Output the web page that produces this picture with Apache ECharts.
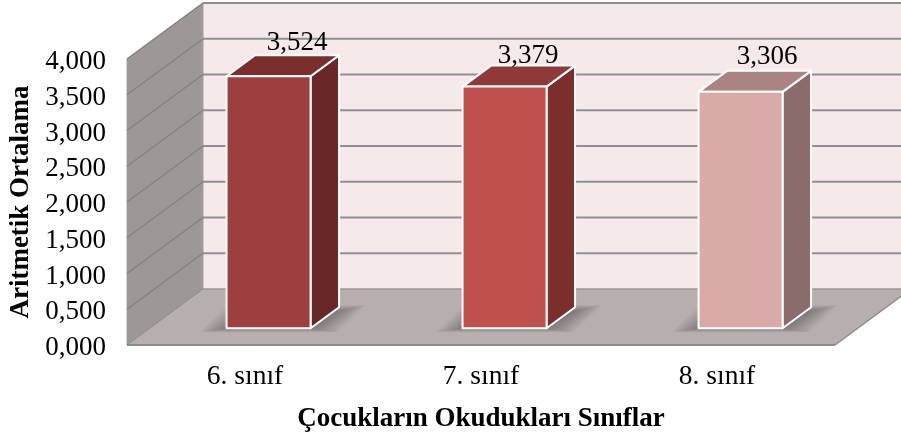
<!DOCTYPE html>
<html>
<head>
<meta charset="utf-8">
<style>
  html, body { margin: 0; padding: 0; background: #fff; }
  #chart { width: 901px; height: 438px; }
</style>
<script src="https://cdn.jsdelivr.net/npm/echarts@6/dist/echarts.min.js"></script>
</head>
<body>
<div id="chart"></div>
<script>
// data
const categories = ['6. sınıf', '7. sınıf', '8. sınıf'];
const means = [3.524, 3.379, 3.306];
const yTicks = [0, 0.5, 1, 1.5, 2, 2.5, 3, 3.5, 4];

// front, side and top face colours per bar
const faceColors = [
  ['#9c3f3e', '#692828', '#7a2e2e'],
  ['#c0504d', '#7b2f2d', '#8e3a38'],
  ['#d9aaa7', '#8a6c6c', '#a98482']
];

const FONT = '"Liberation Serif", "Times New Roman", serif';
// how far the back wall sits behind the front plane
const DEPTH_X = 76;
const DEPTH_Y = -56;
// bars stand inside the floor, these are fractions of the depth
const BAR_START_X = 0.31;
const BAR_START_Y = 0.30;
const BAR_DEPTH = 0.375;
const BAR_WIDTH = 0.356;
// the value labels are not placed quite evenly in the original
const labelNudge = [[0, 3], [-5, 5], [-2, 1]];
const SHADOW_LAYERS = 10;

function fmt(v) {
  return v.toFixed(3).replace('.', ',');
}

function poly(points, style, z2) {
  return { type: 'polygon', shape: { points: points }, style: style, z2: z2 || 0 };
}

// side wall, back wall and floor
function renderWalls(params, api) {
  const left = api.coord([0, 0])[0] - api.size([1, 0])[0] / 2;
  const right = left + api.size([1, 0])[0] * categories.length;
  const y0 = api.coord([0, 0])[1];
  const yTop = api.coord([0, yTicks[yTicks.length - 1]])[1];
  const edge = { stroke: '#8c8c8c', lineWidth: 2 };
  return {
    type: 'group',
    children: [
      poly([[left + DEPTH_X, yTop + DEPTH_Y], [right + DEPTH_X, yTop + DEPTH_Y], [right + DEPTH_X, y0 + DEPTH_Y], [left + DEPTH_X, y0 + DEPTH_Y]],
        { fill: '#f5e9e9', stroke: null }),
      poly([[left, yTop], [left + DEPTH_X, yTop + DEPTH_Y], [left + DEPTH_X, y0 + DEPTH_Y], [left, y0]],
        { fill: '#9c9897', stroke: '#a3a09f', lineWidth: 1 }),
      poly([[left, y0], [right, y0], [right + DEPTH_X, y0 + DEPTH_Y], [left + DEPTH_X, y0 + DEPTH_Y]],
        { fill: '#b7afaf', stroke: null }),
      { type: 'line', shape: { x1: left + DEPTH_X, y1: y0 + DEPTH_Y, x2: right + DEPTH_X, y2: y0 + DEPTH_Y }, style: { stroke: '#9a9595', lineWidth: 1.5 } },
      { type: 'line', shape: { x1: left, y1: y0, x2: right, y2: y0 }, style: edge },
      { type: 'line', shape: { x1: left, y1: y0, x2: left + DEPTH_X, y2: y0 + DEPTH_Y }, style: { stroke: '#8c8c8c', lineWidth: 1 } },
      { type: 'line', shape: { x1: right, y1: y0, x2: right + DEPTH_X, y2: y0 + DEPTH_Y }, style: { stroke: '#8c8c8c', lineWidth: 1.5 } }
    ]
  };
}

// one line along the side wall and the back wall per tick
function renderGridline(params, api) {
  const left = api.coord([0, 0])[0] - api.size([1, 0])[0] / 2;
  const right = left + api.size([1, 0])[0] * categories.length;
  const y = api.coord([0, api.value(1)])[1];
  return {
    type: 'group',
    children: [
      { type: 'line', shape: { x1: left + DEPTH_X, y1: y + DEPTH_Y, x2: right + DEPTH_X, y2: y + DEPTH_Y }, style: { stroke: '#8f8f8f', lineWidth: 2 } },
      { type: 'line', shape: { x1: left, y1: y, x2: left + DEPTH_X, y2: y + DEPTH_Y }, style: { stroke: '#858382', lineWidth: 1.5 } }
    ]
  };
}

function renderBar(params, api) {
  const i = params.dataIndex;
  const value = api.value(1);
  const band = api.size([1, 0])[0];
  const w = band * BAR_WIDTH;
  const cx = api.coord([i, 0])[0] + DEPTH_X * BAR_START_X;
  const bottom = api.coord([i, 0])[1] + DEPTH_Y * BAR_START_Y;
  const top = api.coord([i, value])[1] + DEPTH_Y * BAR_START_Y;
  const x1 = cx - w / 2;
  const x2 = cx + w / 2;
  const dx = DEPTH_X * BAR_DEPTH;
  const dy = DEPTH_Y * BAR_DEPTH;
  const c = faceColors[i];
  const line = { stroke: '#fff', lineWidth: 2, lineJoin: 'round' };
  const children = [];
  // soft shadow on the floor, stacked see-through layers growing outwards
  for (let k = 1; k <= SHADOW_LAYERS; k++) {
    const a = k * 2.7;
    children.push(poly(
      [[x1 - a, bottom + k * 0.4], [x2 + a, bottom + k * 0.4], [x2 + dx + a, bottom + dy + 4 - k * 0.6], [x1 + dx - a, bottom + dy + 4 - k * 0.6]],
      { fill: 'rgba(42,38,38,0.042)' }
    ));
  }
  children.push(
    poly([[x2, top], [x2 + dx, top + dy], [x2 + dx, bottom + dy], [x2, bottom]], Object.assign({ fill: c[1] }, line)),
    poly([[x1, top], [x1 + dx, top + dy], [x2 + dx, top + dy], [x2, top]], Object.assign({ fill: c[2] }, line)),
    poly([[x1, top], [x2, top], [x2, bottom], [x1, bottom]], Object.assign({ fill: c[0] }, line)),
    {
      type: 'text',
      style: {
        text: fmt(value),
        x: cx + dx + labelNudge[i][0],
        y: top + dy - 15 + labelNudge[i][1],
        align: 'center',
        verticalAlign: 'middle',
        fontFamily: FONT,
        fontSize: 27,
        fill: '#000'
      }
    }
  );
  return { type: 'group', children: children };
}

const chart = echarts.init(document.getElementById('chart'), null, { renderer: 'canvas' });
chart.setOption({
  animation: false,
  backgroundColor: '#fff',
  grid: { left: 127, right: 66, top: 59, bottom: 93, outerBoundsMode: 'none' },
  xAxis: {
    type: 'category',
    data: categories,
    name: 'Çocukların Okudukları Sınıflar',
    nameLocation: 'middle',
    nameGap: 61,
    nameTextStyle: { fontFamily: FONT, fontSize: 27, fontWeight: 'bold', color: '#000' },
    axisLine: { show: false },
    axisTick: { show: false },
    axisLabel: { fontFamily: FONT, fontSize: 27.5, color: '#000', margin: 18 }
  },
  yAxis: {
    type: 'value',
    min: 0,
    max: 4,
    interval: 0.5,
    name: 'Aritmetik Ortalama',
    nameLocation: 'middle',
    nameGap: 82,
    nameTextStyle: { fontFamily: FONT, fontSize: 27, fontWeight: 'bold', color: '#000' },
    axisLine: { show: false },
    axisTick: { show: false },
    splitLine: { show: false },
    axisLabel: { fontFamily: FONT, fontSize: 27, color: '#000', margin: 21, verticalAlign: 'top', lineHeight: 6, formatter: fmt }
  },
  series: [
    { type: 'custom', name: 'walls', z: 1, silent: true, data: [[0, 0]], encode: { x: 0, y: 1 }, renderItem: renderWalls },
    { type: 'custom', name: 'gridlines', z: 2, silent: true, data: yTicks.slice(1).map(t => [0, t]), encode: { x: 0, y: 1 }, renderItem: renderGridline },
    { type: 'custom', name: 'Aritmetik Ortalama', z: 3, data: means.map((v, i) => [i, v]), encode: { x: 0, y: 1 }, renderItem: renderBar }
  ]
});
</script>
</body>
</html>
